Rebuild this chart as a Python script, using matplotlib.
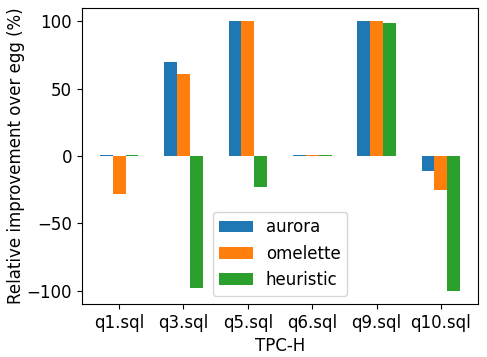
import numpy as np
import matplotlib
matplotlib.use('Agg')
import matplotlib.pyplot as plt

queries = ['q1.sql', 'q3.sql', 'q5.sql', 'q6.sql', 'q9.sql', 'q10.sql']
aurora = [1, 70, 100, 1, 100, -11]
omelette = [-28, 61, 100, 1, 100, -25]
heuristic = [1, -98, -23, 1, 99, -100]

plt.rcParams['font.size'] = 12

fig, ax = plt.subplots(figsize=(4.87, 3.57), dpi=100)
x = np.arange(len(queries))
width = 0.2
ax.bar(x - width, aurora, width, label='aurora')
ax.bar(x, omelette, width, label='omelette')
ax.bar(x + width, heuristic, width, label='heuristic')
ax.set_xticks(x)
ax.set_xticklabels(queries)
ax.set_yticks([-100, -50, 0, 50, 100])
ax.set_xlabel('TPC-H')
ax.set_ylabel('Relative improvement over egg (%)', labelpad=1)
ax.legend(loc='lower center')
fig.subplots_adjust(left=0.168, right=0.982, top=0.978, bottom=0.148)
fig.savefig('out.png', dpi=100)
